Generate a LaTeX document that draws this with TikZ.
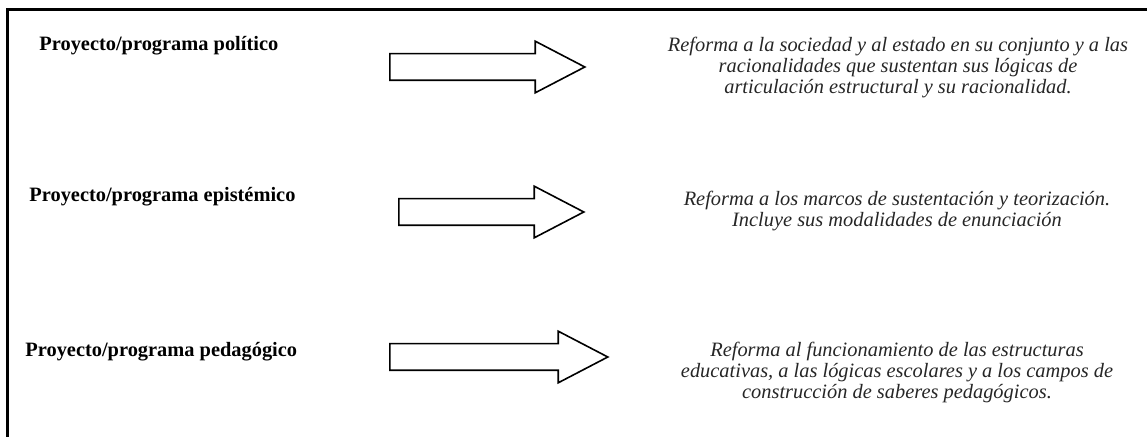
\documentclass[tikz,border=0pt]{standalone}
\usepackage{fontspec}
\setmainfont{Liberation Serif}
\usetikzlibrary{positioning,shapes.arrows}
\tikzset{proy/.style={anchor=west, inner sep=0pt, font=\bfseries\fontsize{10.2}{11}\selectfont}}
\tikzset{reforma/.style={align=center, inner sep=0pt, text=black!85, font=\itshape\fontsize{10.2}{10.5}\selectfont}}
\tikzset{flecha/.style={draw, line width=0.8pt, single arrow, anchor=tail, inner xsep=0pt, inner ysep=6.25pt,
    single arrow head extend=6.25pt, single arrow tip angle=55, minimum height=#1}}

\begin{document}
\begin{tikzpicture}[x=0.5pt, y=-0.5pt]
    \useasboundingbox (0,0) rectangle (1147,437);
    \draw[line width=1.5pt] (1147,10) -- (7,10) -- (7,437);

    \node[proy](pPol) at (39,46) {Proyecto/programa político};
    \node[flecha=97.5pt](fPol) at (389,67) {};
    \node[reforma](rPol) at (898,68) {Reforma a la sociedad y al estado en su conjunto y a las\\
        racionalidades que sustentan sus lógicas de\\
        articulación estructural y su racionalidad.};

    \node[proy](pEpi) at (29,197) {Proyecto/programa epistémico};
    \node[flecha=92.5pt](fEpi) at (398,212) {};
    \node[reforma](rEpi) at (897,211) {Reforma a los marcos de sustentación y teorización.\\
        Incluye sus modalidades de enunciación};

    \node[proy](pPed) at (25,352) {Proyecto/programa pedagógico};
    \node[flecha=109pt](fPed) at (389,357) {};
    \node[reforma](rPed) at (897,372) {Reforma al funcionamiento de las estructuras\\
        educativas, a las lógicas escolares y a los campos de\\
        construcción de saberes pedagógicos.};
\end{tikzpicture}
\end{document}
